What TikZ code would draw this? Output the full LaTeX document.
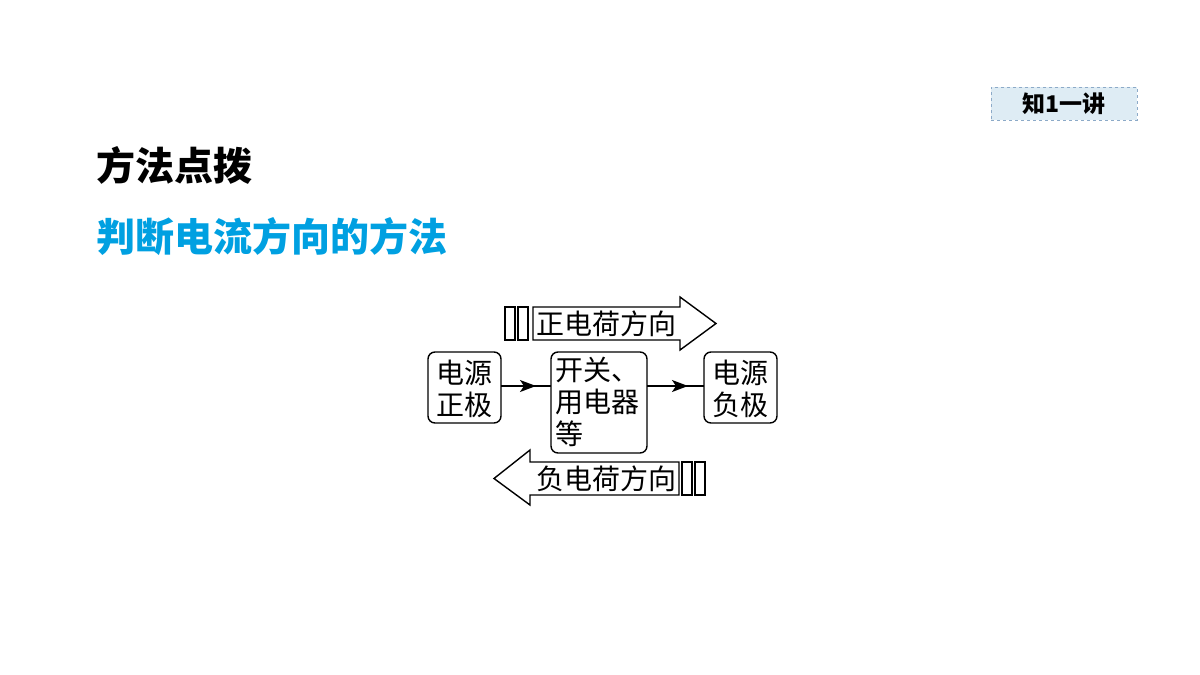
\documentclass[tikz,border=0pt]{standalone}
\usepackage{fontspec}
\setmainfont{Noto Sans CJK SC}
\usetikzlibrary{arrows.meta}
\definecolor{tagfill}{RGB}{222,236,244}
\definecolor{tagline}{RGB}{140,170,200}
\definecolor{blueT}{RGB}{0,160,225}
\tikzset{
 rbox/.style={draw,rounded corners=7pt,line width=1.4pt,inner sep=0pt},
 txt/.style={font=\fontsize{28}{32}\selectfont,inner sep=0pt},
 bar/.style={draw,line width=1.4pt},
 flow/.style={line width=1.4pt,-{Stealth[length=16pt,width=12pt,inset=4pt]}}
}
\begin{document}
\begin{tikzpicture}[x=1pt,y=-1pt]
\useasboundingbox (0,0) rectangle (1200,675);
\node[draw=tagline,dashed,fill=tagfill,minimum width=146pt,minimum height=33pt,font=\fontsize{23}{24}\selectfont\bfseries] (tag) at (1064,103.5) {知1一讲};
\node[anchor=west,font=\fontsize{39}{40}\selectfont\bfseries,inner sep=0pt] (t1) at (96,165) {方法点拨};
\node[anchor=west,font=\fontsize{39}{40}\selectfont\bfseries,text=blueT,inner sep=0pt] (t2) at (96,237) {判断电流方向的方法};
% boxes
\draw[rbox] (428,352) rectangle (501,423);
\node[txt,align=center] (a) at (464.5,389) {电源\\正极};
\draw[rbox] (551,352) rectangle (647,453);
\node[txt,align=left,anchor=north west] (b) at (555,357) {开关、\\用电器\\等};
\draw[rbox] (704,352) rectangle (777,423);
\node[txt,align=center] (c) at (740.5,389) {电源\\负极};
\coordinate (a1) at (501,386); \coordinate (b1) at (551,386);
\coordinate (b2) at (647,386); \coordinate (c1) at (704,386);
\draw[line width=1.4pt] (a1) -- (b1);
\draw[flow] (a1) -- (536,386);
\draw[line width=1.4pt] (b2) -- (c1);
\draw[flow] (b2) -- (688,386);
% upper arrow
\draw[bar] (505,307) rectangle (515,340);
\draw[bar] (518,307) rectangle (528,340);
\draw[line width=1.4pt] (533,307) -- (680,307) -- (680,297) -- (716,323.5) -- (680,350) -- (680,340) -- (533,340) -- cycle;
\node[txt,anchor=west] (u) at (536,323.5) {正电荷方向};
% lower arrow
\draw[bar] (682,462) rectangle (692,495);
\draw[bar] (695,462) rectangle (705,495);
\draw[line width=1.4pt] (679,462) -- (530,462) -- (530,450) -- (494,478.5) -- (530,505) -- (530,495) -- (679,495) -- cycle;
\node[txt,anchor=east] (l) at (677,478.5) {负电荷方向};
\end{tikzpicture}
\end{document}
